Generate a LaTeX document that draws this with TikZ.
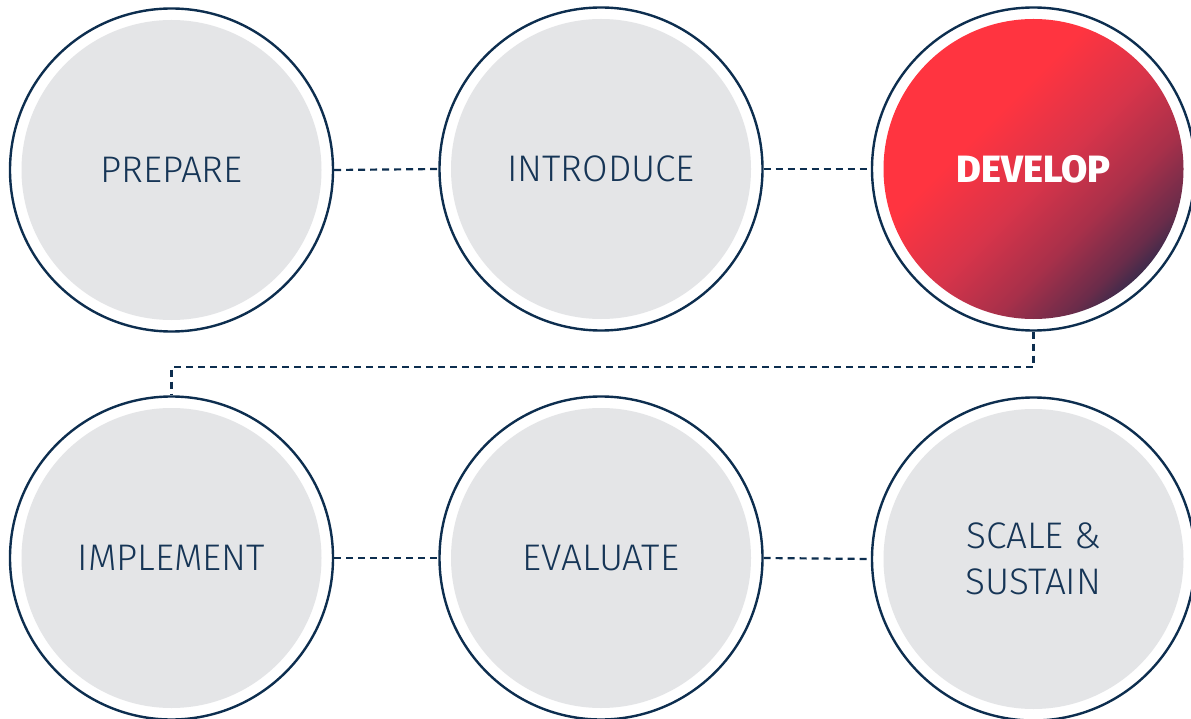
\documentclass[tikz,border=0pt]{standalone}
\usepackage{fontspec}
\setmainfont{Fira Sans Light}[BoldFont={Fira Sans ExtraBold}]
\usetikzlibrary{calc}
\definecolor{navy}{HTML}{0D2E4F}
\definecolor{txt}{HTML}{163556}
\definecolor{disc}{HTML}{E4E5E7}
\definecolor{redA}{HTML}{FF3440}
\definecolor{redB}{HTML}{D8344A}
\definecolor{redC}{HTML}{A8304A}
\definecolor{redD}{HTML}{6A2C4A}
\definecolor{navyB}{HTML}{0F2A4C}
\pgfdeclarehorizontalshading{devgrad}{100bp}{color(0bp)=(redA); color(40bp)=(redA); color(52bp)=(redB); color(62bp)=(redC); color(70bp)=(redD); color(77bp)=(navyB); color(100bp)=(navyB)}
\tikzset{
  stage/.style={circle, minimum size=323pt, inner sep=0pt, draw=navy, line width=2.4pt, fill=white,
    text=txt, font=\fontsize{37}{46}\selectfont, align=center,
    path picture={\fill[disc] (path picture bounding box.center) circle (150pt);}},
  hot/.style={circle, minimum size=323pt, inner sep=0pt, draw=navy, line width=2.4pt, fill=white,
    text=white, font=\fontsize{38}{46}\selectfont\bfseries, align=center,
    path picture={\shade[shading=devgrad, shading angle=-45] (path picture bounding box.center) circle (150pt);}},
  link/.style={draw=navy, line width=2.2pt, dash pattern=on 7pt off 5pt}
}
\begin{document}
\begin{tikzpicture}[x=1pt,y=-1pt]
\useasboundingbox (0,0) rectangle (1191,719);
\node[stage] (prep) at (171.5,170) {PREPARE};
\node[stage] (intro) at (601,169) {INTRODUCE};
\node[hot] (dev) at (1033.5,169) {DEVELOP};
\node[stage] (impl) at (171.5,558) {IMPLEMENT};
\node[stage] (eval) at (601,558) {EVALUATE};
\node[stage] (scale) at (1033.5,559) {SCALE \&\\SUSTAIN};
\coordinate (turn) at (1033.5,367);
\draw[link] (prep.east) -- (intro.west);
\draw[link] (intro.east) -- (dev.west);
\draw[link] (dev.south) -- (turn) -| (impl.north);
\draw[link] (impl.east) -- (eval.west);
\draw[link] (eval.east) -- (scale.west);
\end{tikzpicture}
\end{document}
